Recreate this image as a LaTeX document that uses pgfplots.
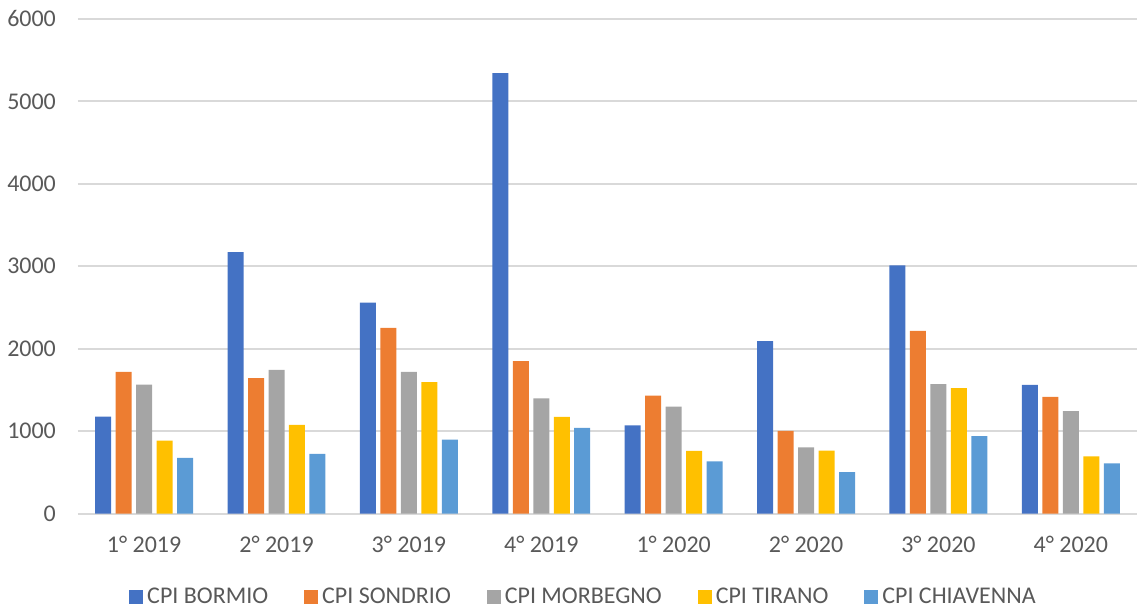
\documentclass[border=0pt]{standalone}
\usepackage{fontspec}
\setmainfont{Carlito}
\usepackage{pgfplots}
\pgfplotsset{compat=1.18}

\definecolor{cBormio}{HTML}{4472C4}
\definecolor{cSondrio}{HTML}{ED7D31}
\definecolor{cMorbegno}{HTML}{A5A5A5}
\definecolor{cTirano}{HTML}{FFC000}
\definecolor{cChiavenna}{HTML}{5B9BD5}
\definecolor{txt}{HTML}{595959}
\definecolor{gridc}{HTML}{D9D9D9}

% x: 0..7 = 1° 2019 ... 4° 2020
\pgfplotstableread{
x bormio sondrio morbegno tirano chiavenna
0 1177 1720 1564 885 675
1 3170 1642 1743 1076 724
2 2558 2253 1719 1593 896
3 5344 1850 1397 1174 1040
4 1071 1432 1298 759 633
5 2093 1002 803 763 503
6 3012 2215 1571 1522 939
7 1561 1415 1244 695 610
}\cpidata

\begin{document}
\begin{tikzpicture}
\begin{axis}[name=ax,
    scale only axis, width=530pt, height=247.5pt,
    ybar=2.25pt, bar width=8pt,
    xmin=-0.5, xmax=7.5, ymin=0, ymax=6000,
    xtick=data,
    xticklabels={1° 2019,2° 2019,3° 2019,4° 2019,1° 2020,2° 2020,3° 2020,4° 2020},
    ytick={0,1000,...,6000},
    xmajorgrids=false, ymajorgrids=true,
    y grid style={color=gridc, line width=1pt},
    axis line style={draw=none},
    major tick length=0pt,
    font=\fontsize{12pt}{14pt}\selectfont,
    ticklabel style={text=txt},
    /pgf/number format/assume math mode=true,
    /pgf/number format/1000 sep={},
    yticklabel style={xshift=-7.5pt},
    xticklabel style={yshift=-8pt},
    legend columns=5,
    legend style={draw=none, at={(0.5,0)}, anchor=center, xshift=-11.5pt, yshift=-42pt,
        text=txt, /tikz/every even column/.append style={column sep=16pt}},
    legend image code/.code={\fill[#1] (0pt,-3.5pt) rectangle (7pt,3.5pt);},
    every axis plot/.append style={draw=none},
]
\addplot[fill=cBormio] table[x=x,y=bormio] {\cpidata};
\addplot[fill=cSondrio] table[x=x,y=sondrio] {\cpidata};
\addplot[fill=cMorbegno] table[x=x,y=morbegno] {\cpidata};
\addplot[fill=cTirano] table[x=x,y=tirano] {\cpidata};
\addplot[fill=cChiavenna] table[x=x,y=chiavenna] {\cpidata};
\legend{CPI BORMIO,CPI SONDRIO,CPI MORBEGNO,CPI TIRANO,CPI CHIAVENNA}
\end{axis}
\path ([shift={(-39pt,-46.5pt)}]ax.south west) rectangle ([shift={(0pt,9.5pt)}]ax.north east);
\end{tikzpicture}
\end{document}
